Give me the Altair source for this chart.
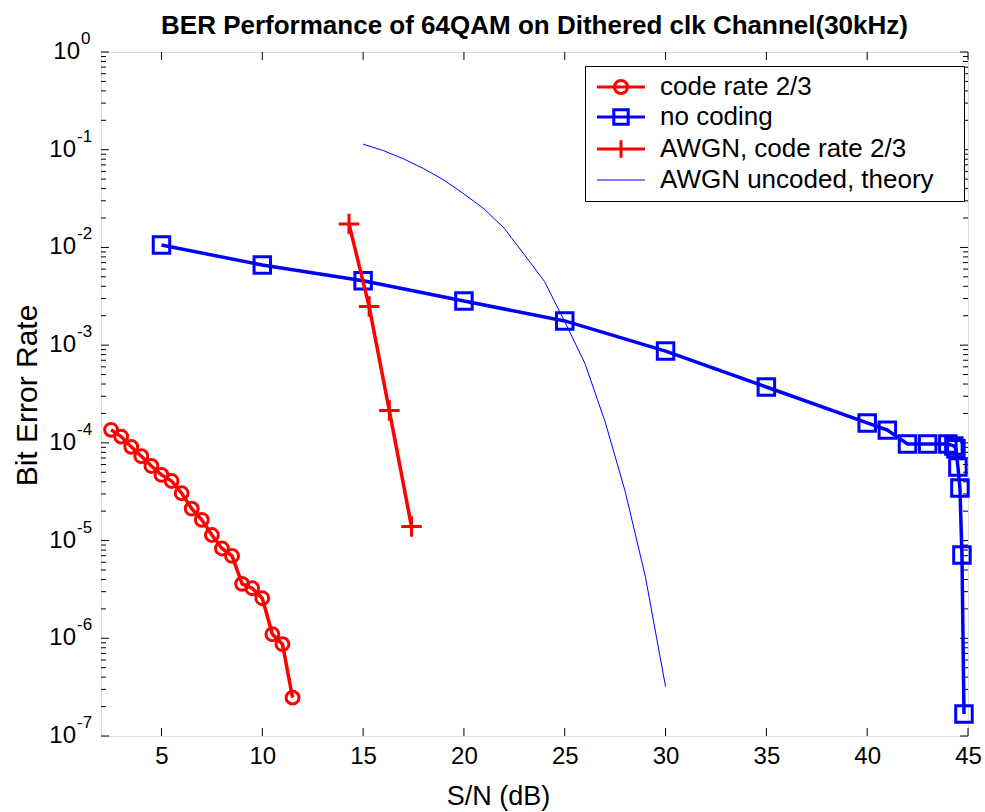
import altair as alt
import pandas as pd

W, H = 867, 684
FONT = "Liberation Sans"

# ---------------- data ----------------
cr_x = [2.5, 3.0, 3.5, 4.0, 4.5, 5.0, 5.5, 6.0, 6.5, 7.0, 7.5, 8.0, 8.5, 9.0, 9.5, 10.0, 10.5, 11.0, 11.5]
cr_y = [1.36e-4, 1.16e-4, 9.1e-5, 7.3e-5, 5.8e-5, 4.7e-5, 4.07e-5, 3.05e-5, 2.12e-5, 1.63e-5,
        1.14e-5, 8.3e-6, 6.96e-6, 3.6e-6, 3.25e-6, 2.57e-6, 1.1e-6, 8.7e-7, 2.47e-7]

nc_x = [5, 10, 15, 20, 25, 30, 35, 40, 41, 42, 43, 44, 44.3, 44.4, 44.5, 44.6, 44.7, 44.8]
nc_y = [1.06e-2, 6.6e-3, 4.57e-3, 2.83e-3, 1.77e-3, 8.7e-4, 3.73e-4, 1.6e-4, 1.35e-4, 9.75e-5,
        9.75e-5, 9.75e-5, 9.3e-5, 8.7e-5, 5.66e-5, 3.45e-5, 7.1e-6, 1.68e-7]

aw_x = [14.3, 15.3, 16.3, 17.4]
aw_y = [1.74e-2, 2.48e-3, 2.14e-4, 1.39e-5]

th_x = [15, 16, 17, 18, 19, 20, 21, 22, 23, 24, 25, 26, 27, 28, 29, 30]
th_y = [0.114, 0.098, 0.0806, 0.0641, 0.049, 0.0353, 0.0248, 0.0157, 8.4e-3, 4.47e-3,
        1.74e-3, 6.5e-4, 1.65e-4, 3.17e-5, 4.26e-6, 3.2e-7]

series_names = ["code rate 2/3", "no coding", "AWGN, code rate 2/3", "AWGN uncoded, theory"]
series_colors = ["#ff0000", "#0000ff", "#ff0000", "#0000ff"]

x_ticks = [5, 10, 15, 20, 25, 30, 35, 40, 45]
y_exps = [0, -1, -2, -3, -4, -5, -6, -7]
x_domain = [2, 45]
y_domain = [1e-7, 1]
title_text = "BER Performance of 64QAM on Dithered clk Channel(30kHz)"

# ---------------- tables ----------------
df_cr = pd.DataFrame({"x": cr_x, "y": cr_y})
df_nc = pd.DataFrame({"x": nc_x, "y": nc_y})
df_aw = pd.DataFrame({"x": aw_x, "y": aw_y})
df_th = pd.DataFrame({"x": th_x, "y": th_y})
df_xt = pd.DataFrame({"v": x_ticks})
df_ymaj = pd.DataFrame({"v": [10.0 ** e for e in y_exps],
                        "e": [str(e) for e in y_exps]})
df_ymin = pd.DataFrame({"v": [m * 10.0 ** e for e in range(-7, 0) for m in range(2, 10)]})

# ---------------- scales / axes ----------------
xs = alt.Scale(domain=x_domain, nice=False, zero=False)
ys = alt.Scale(type="log", domain=y_domain, nice=False)

x_axis = alt.Axis(values=x_ticks, title="S/N (dB)", grid=False, domain=False, ticks=False,
                  tickSize=0, labelFontSize=24, labelPadding=8, labelFlush=False,
                  labelOverlap=False, labelColor="black", labelFont=FONT,
                  titleFontSize=27, titleFontWeight="normal", titleColor="black",
                  titleFont=FONT, titleY=60, titleX=397, titleAlign="center",
                  titleBaseline="middle")
y_axis = alt.Axis(labels=False, ticks=False, tickSize=0, domain=False, grid=False,
                  title="Bit Error Rate", titleFontSize=30, titleFontWeight="normal",
                  titleColor="black", titleFont=FONT, titleX=-74, titleY=343,
                  titleAngle=-90, titleBaseline="middle", titleAlign="center")


def X(f):
    return alt.X(f, type="quantitative", scale=xs, axis=x_axis)


def Y(f):
    return alt.Y(f, type="quantitative", scale=ys, axis=y_axis)


LW = 3.5
MW = 3
plus_path = "M-1,0L1,0M0,-1L0,1"

# ---------------- series ----------------
cr_line = alt.Chart(df_cr).mark_line(color="#ff0000", strokeWidth=LW).encode(x=X("x"), y=Y("y"))
cr_pts = alt.Chart(df_cr).mark_point(shape="circle", filled=False, size=165, strokeWidth=MW,
                                     color="#ff0000", opacity=1).encode(x=X("x"), y=Y("y"))
nc_line = alt.Chart(df_nc).mark_line(color="#0000ff", strokeWidth=LW).encode(x=X("x"), y=Y("y"))
nc_pts = alt.Chart(df_nc).mark_point(shape="square", filled=False, size=272, strokeWidth=MW,
                                     color="#0000ff", opacity=1).encode(x=X("x"), y=Y("y"))
aw_line = alt.Chart(df_aw).mark_line(color="#ff0000", strokeWidth=LW).encode(x=X("x"), y=Y("y"))
aw_pts = alt.Chart(df_aw).mark_point(shape=plus_path, filled=False, size=420, strokeWidth=MW,
                                     color="#ff0000", opacity=1).encode(x=X("x"), y=Y("y"))
th_line = alt.Chart(df_th).mark_line(color="#0000ff", strokeWidth=1).encode(x=X("x"), y=Y("y"))

# ---------------- inward ticks (box style) ----------------
tick_x_bot = alt.Chart(df_xt).mark_rule(color="black", strokeWidth=1).encode(
    x=X("v"), y=alt.value(H), y2=alt.value(H - 8))
tick_x_top = alt.Chart(df_xt).mark_rule(color="black", strokeWidth=1).encode(
    x=X("v"), y=alt.value(0), y2=alt.value(8))
tick_y_l = alt.Chart(df_ymaj).mark_rule(color="black", strokeWidth=1).encode(
    y=Y("v"), x=alt.value(0), x2=alt.value(8))
tick_y_r = alt.Chart(df_ymaj).mark_rule(color="black", strokeWidth=1).encode(
    y=Y("v"), x=alt.value(W), x2=alt.value(W - 8))
tick_ym_l = alt.Chart(df_ymin).mark_rule(color="black", strokeWidth=1).encode(
    y=Y("v"), x=alt.value(0), x2=alt.value(5))
tick_ym_r = alt.Chart(df_ymin).mark_rule(color="black", strokeWidth=1).encode(
    y=Y("v"), x=alt.value(W), x2=alt.value(W - 5))

# ---------------- y tick labels 10^k ----------------
lab0 = alt.Chart(df_ymaj).transform_filter("datum.e == '0'")
labn = alt.Chart(df_ymaj).transform_filter("datum.e != '0'")
base0 = lab0.mark_text(text="10", align="right", baseline="middle", fontSize=24, font=FONT,
                       color="black").encode(y=Y("v"), x=alt.value(-21))
basen = labn.mark_text(text="10", align="right", baseline="middle", fontSize=24, font=FONT,
                       color="black").encode(y=Y("v"), x=alt.value(-25))
exp0 = lab0.mark_text(align="left", baseline="middle", fontSize=17, font=FONT, dy=-13,
                      color="black").encode(y=Y("v"), x=alt.value(-20), text="e:N")
expn = labn.mark_text(align="left", baseline="middle", fontSize=17, font=FONT, dy=-13,
                      color="black").encode(y=Y("v"), x=alt.value(-24), text="e:N")

# ---------------- legend ----------------
leg_paths = [
    "M-4,0L4,0M1.1,0A1.1,1.1,0,1,1,-1.1,0A1.1,1.1,0,1,1,1.1,0",
    "M-4,0L4,0M-1.2,-1.2L1.2,-1.2L1.2,1.2L-1.2,1.2Z",
    "M-4,0L4,0M0,-1.45L0,1.45",
    "M-4,0L4,0",
]
shape_expr = "".join(
    f"datum.value === '{n}' ? '{p}' : " for n, p in zip(series_names[:-1], leg_paths[:-1])
) + f"'{leg_paths[-1]}'"
width_expr = f"datum.value === '{series_names[-1]}' ? 1 : {MW}"
pad_tail = "\u00a0\u00a0\u00a0\u200b"  # invisible tail so the frame is as wide as the reference's

legend_layer = alt.Chart(pd.DataFrame({"series": series_names})).transform_filter(
    "false").mark_point(filled=False, opacity=1).encode(
    color=alt.Color("series:N", scale=alt.Scale(domain=series_names, range=series_colors),
                    legend=alt.Legend(title=None, orient="none", legendX=484, legendY=14,
                                      padding=8, rowPadding=3, symbolOffset=15,
                                      labelOffset=26, labelFontSize=26, labelFont=FONT,
                                      labelColor="black", labelLimit=0,
                                      strokeColor="black", fillColor="white",
                                      symbolSize=144,
                                      symbolType=alt.ExprRef(expr=shape_expr),
                                      symbolStrokeWidth=alt.ExprRef(expr=width_expr),
                                      symbolFillColor="transparent",
                                      labelExpr=f"datum.label + '{pad_tail}'")))

chart = alt.layer(
    tick_x_bot, tick_x_top, tick_y_l, tick_y_r, tick_ym_l, tick_ym_r,
    cr_line, cr_pts, nc_line, nc_pts, aw_line, aw_pts, th_line,
    base0, basen, exp0, expn, legend_layer,
).properties(
    width=W, height=H,
    title=alt.TitleParams(text=title_text, fontSize=26, fontWeight="bold", font=FONT,
                          color="black", anchor="middle", offset=10, dy=19),
    autosize=alt.AutoSizeParams(type="none"),
    padding={"left": 101, "top": 52, "right": 17, "bottom": 76},
).configure_view(stroke="black", strokeWidth=1).configure(background="white")

chart.save("out.html", embed_options={"renderer": "svg", "actions": False})
